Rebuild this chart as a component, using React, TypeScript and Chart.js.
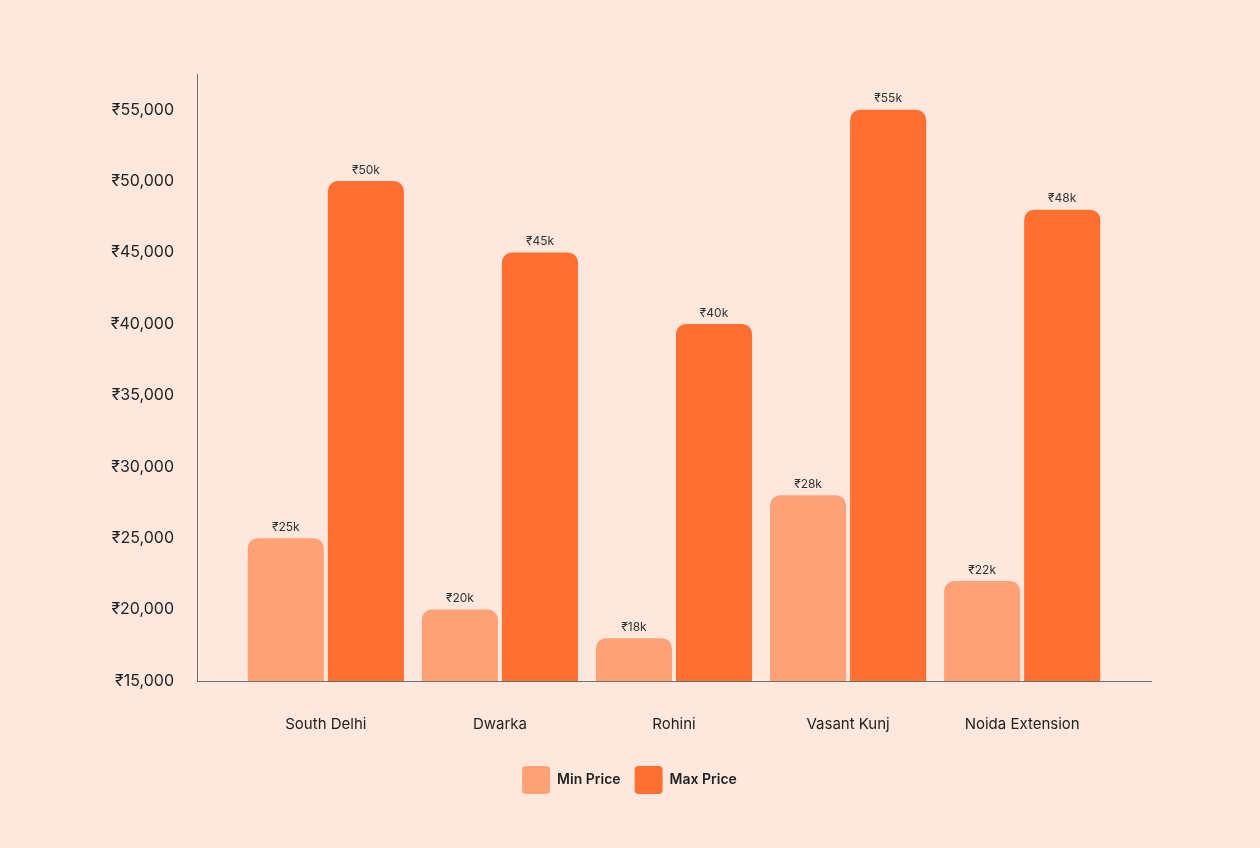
import { useEffect, useRef } from 'react';
import { Chart, registerables } from 'chart.js';

Chart.register(...registerables);

const areas = ['South Delhi', 'Dwarka', 'Rohini', 'Vasant Kunj', 'Noida Extension'];
const minPrice = [25000, 20000, 18000, 28000, 22000];
const maxPrice = [50000, 45000, 40000, 55000, 48000];
const yTicks = [15000, 20000, 25000, 30000, 35000, 40000, 45000, 50000, 55000];

const FONT = "Inter, 'Noto Sans', sans-serif";
const BG = '#FEE7DC';

const valueLabels = {
  id: 'valueLabels',
  afterDatasetsDraw(chart: Chart) {
    const { ctx } = chart;
    ctx.save();
    ctx.font = `12px ${FONT}`;
    ctx.fillStyle = '#333333';
    ctx.textAlign = 'center';
    ctx.textBaseline = 'bottom';
    chart.data.datasets.forEach((ds, di) => {
      const meta = chart.getDatasetMeta(di);
      meta.data.forEach((bar: any, i) => {
        const v = (ds.data[i] as any).y as number;
        ctx.fillText(`₹${Math.round(v / 1000)}k`, bar.x, bar.y - 5);
      });
    });
    ctx.restore();
  },
};

// the legend sits a little right of the canvas centre in the original
const legendShift = {
  id: 'legendShift',
  afterLayout(chart: any) {
    if (!chart.legend) return;
    chart.legend.left += 54;
    chart.legend.right += 54;
  },
};

export default function App() {
  const canvasRef = useRef<HTMLCanvasElement>(null);

  useEffect(() => {
    document.body.style.margin = '0';
    if (!canvasRef.current) return;

    const chart = new Chart(canvasRef.current, {
      type: 'bar',
      data: {
        datasets: [
          {
            label: 'Min Price',
            data: minPrice.map((y, i) => ({ x: i, y })),
            backgroundColor: '#FFA176',
            borderRadius: 10,
            categoryPercentage: 0.92,
            barPercentage: 0.95,
          },
          {
            label: 'Max Price',
            data: maxPrice.map((y, i) => ({ x: i, y })),
            backgroundColor: '#FF6F32',
            borderRadius: 10,
            categoryPercentage: 0.92,
            barPercentage: 0.95,
          },
        ],
      },
      options: {
        animation: false,
        responsive: false,
        layout: { padding: { top: 74, right: 109, bottom: 44, left: 0 } },
        plugins: {
          legend: {
            position: 'bottom',
            labels: {
              boxWidth: 28,
              boxHeight: 28,
              useBorderRadius: true,
              borderRadius: 4,
              padding: 14,
              color: '#222222',
              font: { family: FONT, size: 14, weight: 600 },
            },
          },
          tooltip: { enabled: false },
        },
        scales: {
          x: {
            type: 'linear',
            offset: false,
            min: -0.74,
            max: 4.74,
            grid: { display: false, drawTicks: false },
            border: { color: '#6E6E6E', width: 1 },
            afterBuildTicks: (scale: any) => {
              scale.ticks = areas.map((_, i) => ({ value: i }));
            },
            afterFit: (scale: any) => {
              scale.height = 71;
            },
            ticks: {
              padding: 34,
              color: '#222222',
              font: { family: FONT, size: 15 },
              callback: (v: any) => areas[v as number] ?? '',
            },
          },
          y: {
            min: 15000,
            max: 57500,
            grid: { display: false, drawTicks: false },
            border: { color: '#6E6E6E', width: 1 },
            afterBuildTicks: (scale: any) => {
              scale.ticks = yTicks.map((value) => ({ value }));
            },
            afterFit: (scale: any) => {
              scale.width = 197;
            },
            ticks: {
              padding: 23,
              color: '#222222',
              font: { family: FONT, size: 16 },
              callback: (v: any) => `₹${Number(v).toLocaleString('en-US')}`,
            },
          },
        },
      },
      plugins: [valueLabels, legendShift],
    });

    return () => chart.destroy();
  }, []);

  return (
    <div style={{ width: 1260, height: 848, background: BG }}>
      <canvas ref={canvasRef} width={1260} height={848} />
    </div>
  );
}
